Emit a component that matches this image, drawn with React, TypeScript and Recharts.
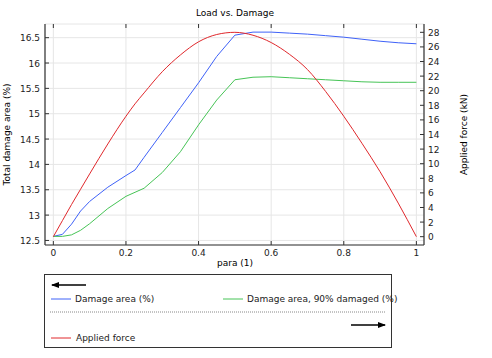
import { LineChart, Line, XAxis, YAxis, CartesianGrid } from 'recharts';

const para = [0, 0.025, 0.05, 0.075, 0.1, 0.15, 0.2, 0.225, 0.25, 0.3, 0.35, 0.4, 0.45, 0.5, 0.55, 0.6, 0.65, 0.7, 0.75, 0.8, 0.85, 0.9, 0.95, 1];
const damageArea = [12.58, 12.62, 12.82, 13.08, 13.27, 13.55, 13.78, 13.89, 14.14, 14.63, 15.12, 15.61, 16.13, 16.55, 16.61, 16.61, 16.59, 16.57, 16.54, 16.51, 16.47, 16.43, 16.4, 16.38];
const damaged90 = [12.58, 12.58, 12.61, 12.7, 12.83, 13.13, 13.37, 13.45, 13.53, 13.84, 14.25, 14.78, 15.27, 15.67, 15.72, 15.73, 15.71, 15.69, 15.67, 15.65, 15.63, 15.62, 15.62, 15.62];
const appliedForce = [0, 2.2, 4.4, 6.5, 8.6, 12.7, 16.5, 18.2, 19.7, 22.6, 24.9, 26.7, 27.7, 28.0, 27.6, 26.6, 25.0, 22.9, 19.9, 16.5, 12.8, 8.9, 4.6, 0];

const xTicks = [0, 0.2, 0.4, 0.6, 0.8, 1];
const leftTicks = [12.5, 13, 13.5, 14, 14.5, 15, 15.5, 16, 16.5];
const rightTicks = [0, 2, 4, 6, 8, 10, 12, 14, 16, 18, 20, 22, 24, 26, 28];

const data = para.map((p, i) => ({
  para: p,
  damage: damageArea[i],
  damaged90: damaged90[i],
  force: appliedForce[i],
}));

const W = 492;
const H = 358;
const PLOT_LEFT = 45;
const PLOT_TOP = 24;
const PLOT_RIGHT = 424;
const PLOT_BOTTOM = 245;
const FONT = 'DejaVu Sans';
const AXIS = '#333';
const TEXT = '#222';

const BLUE = '#3f62f8';
const GREEN = '#46c456';
const RED = '#e0282c';

const BottomTick = (props: any) => {
  const { x, payload } = props;
  return (
    <g>
      <line x1={x} x2={x} y1={PLOT_BOTTOM} y2={PLOT_BOTTOM - 4} stroke={AXIS} />
      <line x1={x} x2={x} y1={PLOT_TOP} y2={PLOT_TOP + 4} stroke={AXIS} />
      <text x={x} y={PLOT_BOTTOM + 11} textAnchor="middle" fontSize={9} fontFamily={FONT} fill={TEXT}>
        {payload.value}
      </text>
    </g>
  );
};

const LeftTick = (props: any) => {
  const { y, payload } = props;
  return (
    <g>
      <line x1={PLOT_LEFT} x2={PLOT_LEFT + 4} y1={y} y2={y} stroke={AXIS} />
      <text x={PLOT_LEFT - 5} y={y + 3.5} textAnchor="end" fontSize={9} fontFamily={FONT} fill={TEXT}>
        {payload.value}
      </text>
    </g>
  );
};

const RightTick = (props: any) => {
  const { y, payload } = props;
  return (
    <g>
      <line x1={PLOT_RIGHT - 4} x2={PLOT_RIGHT} y1={y} y2={y} stroke={AXIS} />
      <text x={PLOT_RIGHT + 4} y={y + 3.5} textAnchor="start" fontSize={9} fontFamily={FONT} fill={TEXT}>
        {payload.value}
      </text>
    </g>
  );
};

const App = () => {
  return (
    <div style={{ position: 'absolute', left: 0, top: 0, width: W, height: H, background: '#fff' }}>
      <LineChart
        width={W}
        height={H}
        data={data}
        margin={{ top: PLOT_TOP, right: 28, left: 0, bottom: 83 }}
      >
        <CartesianGrid xAxisId="bottom" yAxisId="left" stroke="#e6e6e6" />
        <XAxis
          xAxisId="bottom"
          dataKey="para"
          type="number"
          domain={[-0.023, 1.021]}
          ticks={xTicks}
          interval={0}
          allowDataOverflow
          height={30}
          tickLine={false}
          axisLine={{ stroke: AXIS, strokeWidth: 1.2 }}
          tick={<BottomTick />}
        />
        <XAxis
          xAxisId="top"
          orientation="top"
          dataKey="para"
          type="number"
          domain={[-0.023, 1.021]}
          height={0}
          tick={false}
          tickLine={false}
          axisLine={{ stroke: AXIS, strokeWidth: 1.2 }}
        />
        <YAxis
          yAxisId="left"
          type="number"
          domain={[12.41, 16.77]}
          ticks={leftTicks}
          interval={0}
          allowDataOverflow
          width={45}
          tickLine={false}
          axisLine={{ stroke: AXIS, strokeWidth: 1.2 }}
          tick={<LeftTick />}
        />
        <YAxis
          yAxisId="right"
          orientation="right"
          type="number"
          domain={[-1.14, 29.14]}
          ticks={rightTicks}
          interval={0}
          allowDataOverflow
          width={40}
          tickLine={false}
          axisLine={{ stroke: AXIS, strokeWidth: 1.2 }}
          tick={<RightTick />}
        />
        <Line xAxisId="bottom" yAxisId="left" type="linear" dataKey="damage" stroke={BLUE} strokeWidth={1} dot={false} isAnimationActive={false} />
        <Line xAxisId="bottom" yAxisId="left" type="linear" dataKey="damaged90" stroke={GREEN} strokeWidth={1} dot={false} isAnimationActive={false} />
        <Line xAxisId="bottom" yAxisId="right" type="monotone" dataKey="force" stroke={RED} strokeWidth={1} dot={false} isAnimationActive={false} />
      </LineChart>
      <svg
        width={W}
        height={H}
        style={{ position: 'absolute', left: 0, top: 0, pointerEvents: 'none' }}
        fontFamily={FONT}
      >
        <defs>
          <marker id="arrowHead" markerWidth="8" markerHeight="6" refX="7" refY="3" orient="auto" markerUnits="userSpaceOnUse">
            <path d="M0,0 L8,3 L0,6 Z" fill="#000" />
          </marker>
        </defs>
        <text x={235} y={16} textAnchor="middle" fontSize={9} fill="#000">Load vs. Damage</text>
        <text x={235} y={266} textAnchor="middle" fontSize={9} fill="#000">para (1)</text>
        <text x={10} y={134.5} textAnchor="middle" fontSize={9} fill="#000" transform="rotate(-90 10 134.5)">
          Total damage area (%)
        </text>
        <text x={467} y={134.5} textAnchor="middle" fontSize={9} fill="#000" transform="rotate(-90 467 134.5)">
          Applied force (kN)
        </text>

        <rect x={44.5} y={274.5} width={347} height={73} fill="none" stroke={AXIS} strokeWidth={1} />
        <line x1={86} y1={285} x2={52} y2={285} stroke="#000" strokeWidth={1.3} markerEnd="url(#arrowHead)" />
        <line x1={51} y1={299} x2={71} y2={299} stroke={BLUE} strokeWidth={1} />
        <text x={75} y={302} fontSize={9} fill={TEXT}>Damage area (%)</text>
        <line x1={223} y1={299} x2={243} y2={299} stroke={GREEN} strokeWidth={1} />
        <text x={247} y={302} fontSize={9} fill={TEXT}>Damage area, 90% damaged (%)</text>
        <line x1={50} y1={312} x2={386} y2={312} stroke="#888" strokeWidth={1} strokeDasharray="1 1" />
        <line x1={351} y1={325} x2={385} y2={325} stroke="#000" strokeWidth={1.3} markerEnd="url(#arrowHead)" />
        <line x1={51} y1={338} x2={71} y2={338} stroke={RED} strokeWidth={1} />
        <text x={76} y={341} fontSize={9} fill={TEXT}>Applied force</text>
      </svg>
    </div>
  );
};

export default App;
